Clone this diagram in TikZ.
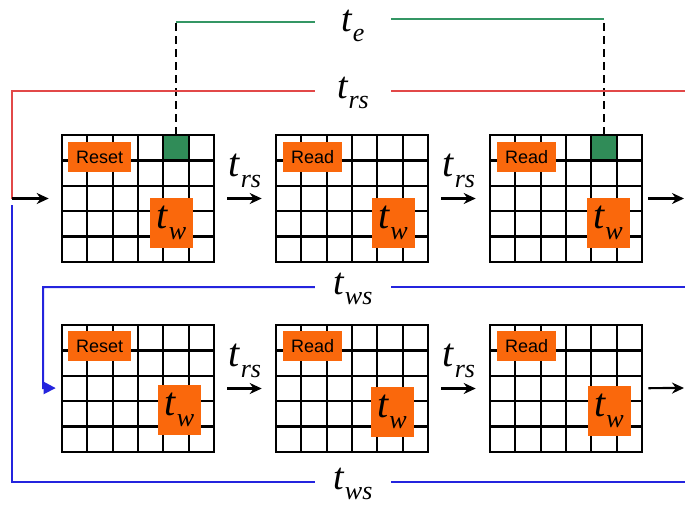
\documentclass[tikz,border=0pt]{standalone}
\usepackage{fontspec}
\setmainfont{Liberation Serif}
\newfontfamily\opfont{Liberation Sans}
\usepackage{tikz}
\usetikzlibrary{arrows.meta,calc,positioning}
\definecolor{oporange}{RGB}{250,104,12}
\definecolor{cellgreen}{RGB}{48,140,88}
\definecolor{egreen}{RGB}{52,150,100}
\definecolor{rsred}{RGB}{226,72,72}
\definecolor{wsblue}{RGB}{36,36,222}
\newcommand{\tsub}[1]{\textit{t}\raisebox{-0.27em}{\fontsize{26}{26}\selectfont\textit{#1}}}

\begin{document}
\begin{tikzpicture}[x=1pt,y=-1pt,
  arr/.style={-{Stealth[length=12pt,width=11pt]},line width=2.2pt},
  cellgrid/.style={draw,line width=2.6pt,minimum width=152pt,minimum height=127pt,inner sep=0pt},
  gcell/.style={fill=cellgreen,minimum width=25.3pt,minimum height=25.3pt,inner sep=0pt},
  opbox/.style={fill=oporange,font=\opfont\fontsize{18}{18}\selectfont,inner xsep=8pt,minimum height=30pt,anchor=north west},
  twbox/.style={fill=oporange,minimum width=43pt,minimum height=50pt,inner sep=0pt,font=\fontsize{40}{40}\selectfont},
  tlab/.style={font=\fontsize{38}{38}\selectfont,minimum width=76pt,inner sep=0pt,anchor=base},
  tarr/.style={font=\fontsize{40}{40}\selectfont,inner sep=0pt,anchor=base,yshift=22pt},
  wire/.style={line width=2pt}]
\useasboundingbox (0,0) rectangle (685,512);
\node[gcell] (c1) at (176,147.7) {};
\node[gcell] (c2) at (604,147.7) {};
\foreach \n/\gx/\gy in {a1/62/135,a2/276/135,a3/490/135,b1/62/325,b2/276/325,b3/490/325}{
  \node[cellgrid] (\n) at ({\gx+76},{\gy+63.5}) {};
  \foreach \i in {1,...,5} \draw[line width=2.3pt] ({\gx+\i*152/6},\gy) -- ++(0,127);
  \foreach \j in {1,...,4} \draw[line width=2.3pt] (\gx,{\gy+\j*25.4}) -- ++(152,0);
}
\foreach \n/\x/\y/\txt in {o1/68/142/Reset,o2/283/142/Read,o3/497/142/Read,o4/68/331/Reset,o5/283/331/Read,o6/497/331/Read}
  \node[opbox] (\n) at (\x,\y) {\txt};
\foreach \n/\x/\y in {w1/171.5/223,w2/393/223,w3/608/223,w4/179.5/410,w5/392/412,w6/609/411}
  \node[twbox] (\n) at (\x,\y) {\tsub{w}};

\node[tlab] (te) at (353,31) {\tsub{e}};
\node[tlab] (trs) at (353,98) {\tsub{rs}};
\node[tlab] (tws1) at (353,294) {\tsub{ws}};
\node[tlab] (tws2) at (353,489) {\tsub{ws}};

\coordinate (e1) at (176,22);
\coordinate (e2) at (604,19);
\coordinate (rr) at (685,91);
\coordinate (jn) at (12,198.5);
\coordinate (jb) at (12,205);
\coordinate (bt) at (685,287);
\coordinate (bb) at (685,482);
\coordinate (bin) at (43,388);
\coordinate (oa) at (684,198.5);
\coordinate (ob) at (684,388);

\draw[line width=2.6pt,dash pattern=on 8pt off 5pt] (c1.north) -- (e1);
\draw[line width=2.6pt,dash pattern=on 8pt off 5pt] (c2.north) -- (e2);
\draw[wire,egreen] (e1) -- (te.west |- e1);
\draw[wire,egreen] (te.east |- e2) -- (e2);
\draw[wire,rsred] (trs.west |- rr) -| (jn);
\draw[wire,rsred] (trs.east |- rr) -- (rr);
\draw[wire,wsblue] (jb) |- (tws2.west |- bb);
\draw[wire,wsblue] (tws2.east |- bb) -- (bb);
\draw[wire,wsblue] (tws1.east |- bt) -- (bt);
\draw[wire,wsblue,-{Triangle[length=12pt,width=12pt]},shorten >=5pt] (tws1.west |- bt) -| (bin) -- (b1);

\draw[arr,shorten >=12pt] (jn) -- (a1);
\draw[arr,shorten <=12pt,shorten >=13pt] (a1) -- node[tarr]{\tsub{rs}} (a2);
\draw[arr,shorten <=12pt,shorten >=13pt] (a2) -- node[tarr]{\tsub{rs}} (a3);
\draw[arr,shorten <=5pt] (a3) -- (oa);
\draw[arr,shorten <=12pt,shorten >=13pt] (b1) -- node[tarr]{\tsub{rs}} (b2);
\draw[arr,shorten <=12pt,shorten >=13pt] (b2) -- node[tarr]{\tsub{rs}} (b3);
\draw[arr,shorten <=5pt] (b3) -- (ob);
\end{tikzpicture}
\end{document}
